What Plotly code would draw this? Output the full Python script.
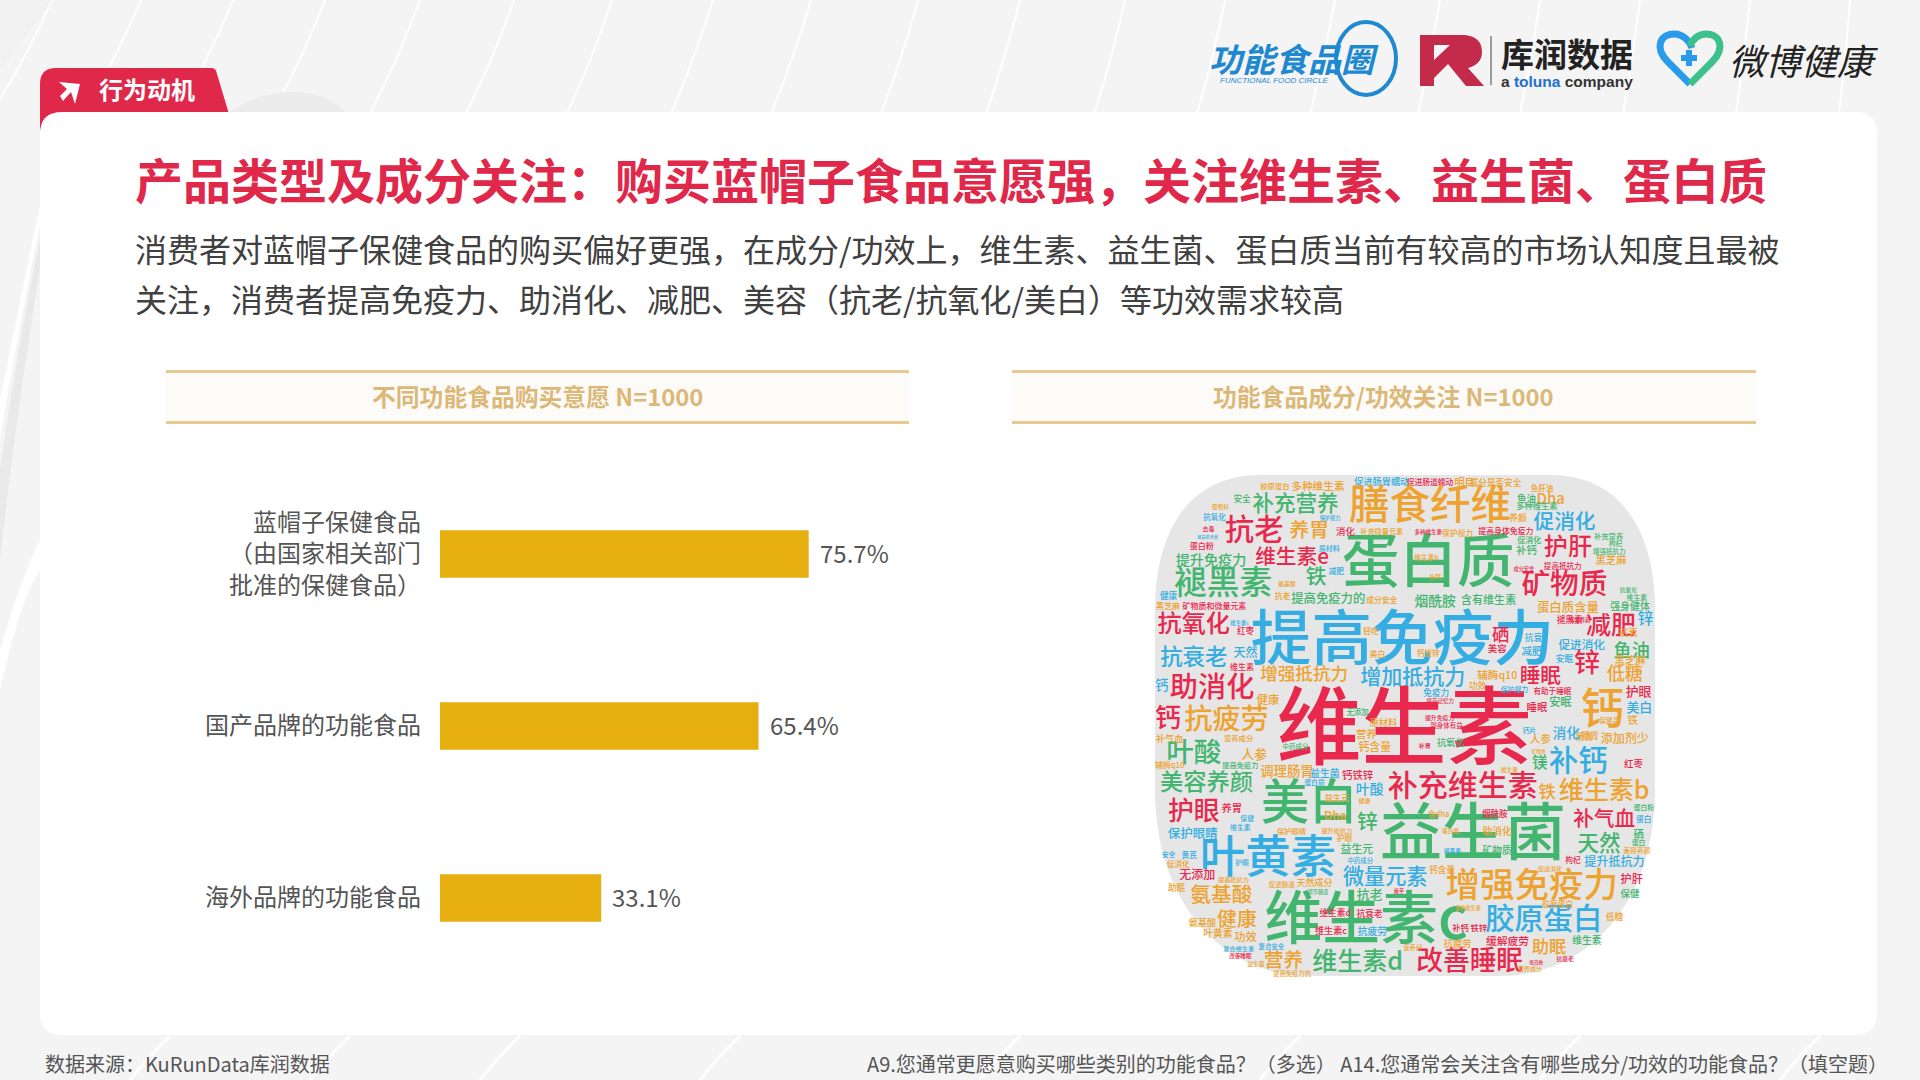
import plotly.graph_objects as go

FONT = "Noto Sans CJK SC"

# ---------- bar chart data ----------
bar_categories = ["蓝帽子保健食品<br>（由国家相关部门<br>批准的保健食品）", "国产品牌的功能食品", "海外品牌的功能食品"]
bar_values = [75.7, 65.4, 33.1]
bar_labels = ["75.7%", "65.4%", "33.1%"]

title_text = "产品类型及成分关注：购买蓝帽子食品意愿强，关注维生素、益生菌、蛋白质"
body_line1 = "消费者对蓝帽子保健食品的购买偏好更强，在成分/功效上，维生素、益生菌、蛋白质当前有较高的市场认知度且最被"
body_line2 = "关注，消费者提高免疫力、助消化、减肥、美容（抗老/抗氧化/美白）等功效需求较高"
panel_left = "不同功能食品购买意愿 N=1000"
panel_right = "功能食品成分/功效关注 N=1000"
foot_left = "数据来源：KuRunData库润数据"
foot_right = "A9.您通常更愿意购买哪些类别的功能食品？（多选） A14.您通常会关注含有哪些成分/功效的功能食品？（填空题）"

# ---------- word cloud: (word, centre x, centre y, width, colour key) ----------
cloud_upper = [
("胶原蛋白",420,72,85,"o"),("多种维生素",545,72,155,"o"),("促进肠胃蠕动",730,58,160,"b"),("促进肠道蠕动",870,58,135,"r"),
("明目",970,60,60,"o"),("成分是否安全",1060,60,150,"o"),("膳食纤维",870,132,470,"o"),("补充营养",480,125,250,"g"),
("安全",325,110,50,"g"),("Dha",1220,110,75,"o"),("鱼油",1150,110,55,"g"),("抗老",360,205,170,"r"),("养胃",520,205,115,"o"),
("促消化",1260,178,180,"b"),("蛋白质",865,305,500,"g"),("消化",625,208,55,"r"),("补充微量元素",730,208,125,"o"),
("多种维生素",865,208,80,"r"),("保护视力",950,213,90,"o"),("提高身体免疫力",1090,205,160,"r"),("护肝",1270,255,140,"r"),
("维生素e",470,285,215,"r"),("提升免疫力",235,292,205,"g"),("褪黑素",270,365,285,"g"),("铁",540,345,60,"g"),
("矿物质",1260,368,250,"r"),("补钙",1150,265,60,"g"),("提高抵抗力",1255,310,110,"r"),("黑芝麻",1395,295,90,"o"),
("提高免疫力的",575,410,215,"g"),("烟酰胺",885,418,120,"g"),("含有维生素",1040,412,160,"g"),("蛋白质含量",1270,435,180,"o"),
("强身健体",1450,432,115,"g"),("黑芝麻",110,430,70,"o"),("矿物质和微量元素",245,430,185,"r"),("提高免疫力",790,535,880,"b"),
("抗氧化",185,485,210,"r"),("减肥",1395,490,145,"r"),("锌",1495,470,45,"b"),("硒",1075,520,50,"r"),("抗衰老",185,585,195,"b"),
("天然",335,570,70,"b"),("促进消化",1310,548,135,"b"),("鱼油",1455,565,105,"g"),("锌",1325,605,75,"r"),
("增强抵抗力",505,635,255,"o"),("增加抵抗力",820,645,305,"b"),("辅酶q10",1065,638,115,"o"),("睡眠",1190,640,120,"r"),
("低糖",1435,635,105,"o"),("钙",92,668,38,"b"),("助消化",238,678,245,"r"),("维生素",325,615,70,"r"),("钙",1370,745,125,"o"),
("护眼",1475,688,75,"r"),("美白",1477,735,75,"b"),("维生素",795,808,740,"r"),("钙",110,770,75,"r"),("抗疲劳",280,772,245,"o"),
("健康",400,712,65,"o"),("安眠",1248,720,65,"g"),("睡眠",1180,735,60,"r"),("美容",1065,558,55,"r"),("抗衰",1170,525,50,"b"),
("减肥",1165,568,60,"b"),("安眠",1260,590,50,"b"),("美白",718,575,45,"o"),("钙镁锌",865,572,65,"o"),("红枣",335,505,50,"r"),
("维生素c",318,480,55,"b"),("轻吃",698,505,45,"o"),("健康",112,400,50,"b"),("抗老",442,402,45,"o"),("成分安全",730,413,90,"o"),
("氨基酸",455,365,50,"o"),("减肥",598,325,45,"b"),("原材料",578,258,60,"b"),("蛋白粉",208,250,70,"r"),("蛋白质含量",225,223,60,"b"),
("去毒",228,200,35,"r"),("抗氧化",245,165,65,"b"),("葡萄籽",262,133,50,"o"),("保护视力",580,165,60,"b"),("鱼肝油",1195,78,65,"o"),
("多种维生素",1180,132,120,"g"),("养颜",1125,165,50,"o"),("促消化",1158,232,70,"g"),("维生素b",860,285,70,"o"),
("补钙",885,342,35,"o"),("原材料",735,780,80,"o"),("营养",685,815,60,"o"),("无添加",660,750,65,"g"),
("保健品",1390,775,60,"o"),("提高记忆力",900,715,80,"r"),("免疫力",888,692,75,"b"),
("美容养颜",1305,472,60,"r"),("褪黑素",1275,472,75,"r"),("提升免疫力",898,765,85,"r"),("副身体有益",918,790,95,"r"),
("有助于睡眠",1225,685,110,"r"),("保护视力",1115,680,80,"b"),("功效",1008,670,50,"o"),
("抗氧化",1445,382,50,"g"),("维生素",1470,405,60,"g"),("增强抵抗力",1390,268,95,"g"),("枸杞",1408,242,40,"g"),("补充营养",1388,222,85,"g"),
("成分安全",1142,320,60,"r"),("抗衰",1445,510,55,"o"),
("黑芝麻",1450,595,90,"o"),("铁",1458,775,30,"o"),("钙片",1158,805,40,"b"),("肠胃",1318,822,50,"o"),
]
cloud_lower = [
("叶酸",185,92,160,"g"),("人参",360,95,75,"o"),("钙含量",710,75,95,"o"),("营养成分",315,48,85,"o"),("补气血",115,48,80,"o"),
("补钙",1300,118,170,"b"),("镁",1188,120,45,"g"),("红枣",1460,125,55,"r"),("美容养颜",222,180,270,"g"),("调理肠胃",455,148,155,"o"),
("益生菌",565,152,85,"b"),("钙铁锌",660,158,90,"r"),("补充维生素",965,192,435,"r"),("铁",1210,210,50,"o"),("维生素b",1375,205,260,"o"),
("美白",520,245,280,"g"),("益生元",600,228,70,"o"),("护眼",185,268,150,"r"),("养胃",295,258,60,"r"),("益生菌",995,340,540,"g"),
("补气血",1375,290,180,"r"),("蛋白",1490,290,45,"b"),("叶黄素",400,408,395,"b"),("保护眼睛",182,335,145,"b"),("锌",688,300,60,"g"),
("Dha",595,280,60,"o"),("益生元",658,380,95,"g"),("天然",1360,365,125,"g"),("矿物质",1065,385,85,"g"),("助消化",1065,328,85,"o"),
("蛋白质",930,325,50,"o"),("枸杞",1285,413,45,"r"),("提升抵抗力",1405,417,175,"b"),("微量元素",740,465,245,"b"),("无添加",195,458,105,"r"),
("增强免疫力",1165,490,500,"o"),("护肝",1455,470,65,"r"),("保健",1450,513,55,"g"),("氨基酸",265,517,180,"o"),("助眠",135,495,50,"o"),
("天然成分",535,482,105,"o"),("抗老",695,517,75,"g"),("维生素c",685,595,600,"g"),("胶原蛋白",1200,592,340,"b"),("健康",310,590,115,"o"),
("氨基酸",210,602,80,"o"),("功效",335,645,65,"o"),("叶黄素",255,633,85,"o"),("维生素d",595,572,90,"r"),("抗衰老",695,575,75,"r"),
("维生素c",583,625,95,"r"),("抗疲劳",703,628,85,"b"),("助眠",1215,675,100,"o"),("维生素",1325,655,85,"g"),("缓解疲劳",1095,655,125,"r"),
("维生素d",660,718,260,"g"),("改善睡眠",985,718,310,"r"),("营养",445,715,115,"o"),("改善睡眠",320,700,65,"r"),("提高免疫力的",470,752,110,"o"),
("中药成分",480,72,75,"g"),("补胃",855,70,35,"r"),("抗氧化",930,60,80,"g"),("提高免疫力",320,128,105,"g"),("辅酶q10",115,128,85,"o"),
("消化",1265,32,80,"b"),("肠胃",1335,40,50,"o"),("添加剂少",1435,48,140,"o"),("人参",1190,50,60,"o"),("矿物质",1185,85,40,"o"),("维生素",1100,142,50,"o"),
("蛋白质",535,180,60,"b"),("叶酸",695,200,80,"b"),("健康",680,235,35,"o"),("含dha",895,275,60,"o"),("烟酰胺",1058,275,75,"r"),
("保健",340,288,40,"b"),("护眼",622,348,45,"o"),("提升抵抗力",600,325,90,"o"),("保护眼睛",468,325,85,"o"),("维生素",320,316,60,"b"),("黄芪",172,397,45,"b"),("安全",112,397,40,"b"),
("护眼",325,420,40,"b"),("促消化",140,425,65,"o"),("提高抵抗力",300,470,90,"o"),("中药成分",668,415,75,"b"),("褪黑素",935,385,50,"b"),("钙含量",905,443,75,"o"),
("促进消化",1218,438,70,"o"),("美容养颜",1470,385,80,"o"),("蛋白",1475,360,40,"g"),("硒",1475,335,30,"g"),("蛋白粉",1490,255,60,"g"),("促进肠道",440,485,75,"o"),
("低糖",1405,582,50,"o"),("多种维生素",980,555,75,"o"),("补钙 铁锌",985,618,110,"r"),("胶原蛋白",1240,545,90,"o"),
("复合维生素",315,678,90,"b"),("复合安全",410,672,75,"b"),("蛋白质",1178,718,40,"r"),("抗衰老",1262,710,50,"r"),("魔芋",780,505,30,"r"),("营养好",820,675,55,"o"),
("调节肠道",545,508,60,"g"),("抗疲劳",950,665,80,"o"),("营养成分",1160,740,70,"o"),("益生菌",365,725,50,"o"),
]
COLOURS = {"r": "#e9284d", "g": "#42b56f", "b": "#33ade2", "o": "#eea22f"}
ZOOM_X0, ZOOM_XS = 1130, 2.9
UPPER_Y0, LOWER_Y0, ZOOM_YS = 460, 720, 3


def size_of(word, width):
    units = sum(0.58 if ord(c) < 128 else 1 for c in word)
    return width / ZOOM_XS / units


cloud_x, cloud_y, cloud_text, cloud_size, cloud_col = [], [], [], [], []
for rows, y0 in ((cloud_upper, UPPER_Y0), (cloud_lower, LOWER_Y0)):
    for w, zx, zy, zw, c in rows:
        s = size_of(w, zw)
        cloud_x.append(ZOOM_X0 + zx / ZOOM_XS)
        cloud_y.append(y0 + zy / ZOOM_YS + 3 + 0.05 * s)
        cloud_text.append(w)
        cloud_size.append(s)
        cloud_col.append(COLOURS[c])

fig = go.Figure()

# page axes: full window in pixels, drawn first so the bars sit above its shapes
fig.add_trace(go.Scatter(x=cloud_x, y=cloud_y, text=cloud_text, mode="text",
                         textposition="middle center",
                         textfont=dict(family=FONT, size=cloud_size, color=cloud_col, weight=500),
                         hoverinfo="skip", showlegend=False, xaxis="x", yaxis="y"))

fig.add_trace(go.Bar(x=bar_values, y=bar_categories, orientation="h", marker=dict(color="#e6ae0f", line_width=0),
                     width=0.276, hoverinfo="skip", showlegend=False, xaxis="x2", yaxis="y2"))

shapes = []


def path(d, fill=None, line=None, lw=0, layer="below"):
    shapes.append(dict(type="path", path=d, xref="x", yref="y", layer=layer,
                       fillcolor=fill or "rgba(0,0,0,0)",
                       line=dict(color=line or "rgba(0,0,0,0)", width=lw)))


def rect(x0, y0, x1, y1, fill):
    shapes.append(dict(type="rect", x0=x0, y0=y0, x1=x1, y1=y1, xref="x", yref="y", layer="below",
                       fillcolor=fill, line_width=0))


# page background strokes
for xt in [52, 141, 233, 325, 420, 514, 612, 713, 811, 918, 1020, 1125, 1225, 1335, 1440, 1540, 1640, 1750, 1850]:
    dx = 62 * (1 - 0.85 * xt / 1920)
    path(f"M{xt},0 Q{xt - dx * .4:.0f},55 {xt - dx:.0f},114", line="#ffffff", lw=2)
path("M0,0 L0,70 L14,52 L52,0 Z", fill="#f1f1f1")
path("M0,470 Q22,320 40,240 L40,270 Q18,400 0,560 Z", fill="#e9e9e9")
path("M0,400 Q20,300 40,205 L40,225 Q18,330 0,440 Z", fill="#ffffff")
path("M0,650 Q20,580 40,540 L40,570 Q20,600 0,690 Z", fill="#ffffff")
path("M230,112 Q260,90 300,92 Q330,95 345,112 Z", fill="#ececec")
for xb in [130, 310, 480, 700, 980, 1260, 1540, 1780]:
    path(f"M{xb},1080 Q{xb + 15},1060 {xb + 40},1036", line="#ffffff", lw=3)

# red tag
path("M40,132 L40,84 Q40,68 56,68 L212,68 Q216,68 217,74 L229,114 L60,114 Q44,116 40,132 Z", fill="#e0284a")
path("M59,82 L80,84 L75,104 L71,92 L63,101 L60,96 L67,89 Z", fill="#ffffff")

# white card
path("M62,112 L1855,112 Q1877,112 1877,134 L1877,1013 Q1877,1035 1855,1035 L62,1035 Q40,1035 40,1013 L40,134 Q40,112 62,112 Z", fill="#ffffff")

# panel banners
for x0, x1 in ((166, 909), (1012, 1756)):
    rect(x0, 371, x1, 423, "#fcfbf8")
    rect(x0, 370, x1, 373, "#e7ca90")
    rect(x0, 421, x1, 424, "#e7ca90")

# grey cloud silhouette
path("M1260,475 L1550,475 C1620,475 1655,530 1655,610 L1655,790 C1655,900 1590,976 1500,976 L1310,976 "
     "C1220,976 1155,900 1155,790 L1155,610 C1155,530 1190,475 1260,475 Z", fill="#e6e6e6")

# logos
shapes.append(dict(type="circle", x0=1336, y0=22, x1=1396, y1=95, xref="x", yref="y", layer="below",
                   line=dict(color="#1e88d0", width=4), fillcolor="rgba(0,0,0,0)"))
path("M1420,35 L1434,35 L1434,86 L1420,86 Z", fill="#c42b4a")
path("M1434,35 L1465,35 Q1482,37 1482,52 Q1482,64 1468,68 L1484,86 L1466,86 L1448,64 L1434,78 L1434,60 L1450,45 L1434,45 Z", fill="#c42b4a")
path("M1491,36 L1491,85", line="#444444", lw=1)
path("M1690,84 L1668,62 C1654,48 1660,34 1674,34 C1684,34 1690,42 1692,48", line="#2a9bea", lw=7)
path("M1690,84 L1712,62 C1726,48 1720,34 1706,34 C1698,34 1692,40 1690,46", line="#3cc08c", lw=7)
path("M1689,50 L1689,66 M1681,58 L1697,58", line="#2a9bea", lw=6)

anns = []


def text(x, y, s, size, color="#404040", anchor="left", bold=False, family=FONT, italic=False):
    if bold:
        s = f"<b>{s}</b>"
    if italic:
        s = f"<i>{s}</i>"
    anns.append(dict(x=x, y=y, xref="x", yref="y", text=s, showarrow=False, xanchor=anchor, yanchor="middle",
                     font=dict(family=family, size=size, color=color)))


text(133, 178, title_text, 48, "#e0284a", bold=True)
text(133, 248, body_line1, 32, "#404040")
text(133, 298, body_line2, 32, "#404040")
text(537, 395, panel_left, 23.8, "#dcb878", "center", bold=True)
text(1383, 395, panel_right, 23.8, "#dcb878", "center", bold=True)
text(147, 88, "行为动机", 24, "#ffffff", "center", bold=True)
text(43, 1063, foot_left, 20, "#555555")
text(1890, 1063, foot_right, 20, "#555555", "right")
text(1294, 58, "功能食品圈", 33, "#1e88d0", "center", bold=True, italic=True)
text(1274, 80, "FUNCTIONAL FOOD CIRCLE", 8, "#1e88d0", "center", family="Liberation Sans", italic=True)
text(1567, 53, "库润数据", 33, "#222222", "center", bold=True)
text(1567, 81, 'a <span style="color:#1e6fd0">toluna</span> company', 15.5, "#333333", "center", bold=True, family="Liberation Sans")
text(1803, 59, "微博健康", 36, "#222222", "center", italic=True)

# value labels placed through the bar axes
for cat, val, lab in zip(bar_categories, bar_values, bar_labels):
    anns.append(dict(x=val, y=cat, xref="x2", yref="y2", text=lab, showarrow=False, xanchor="left", yanchor="middle",
                     xshift=9, yshift=2, font=dict(family=FONT, size=24, color="#555555")))

fig.update_layout(
    width=1920, height=1080, autosize=False,
    margin=dict(l=0, r=0, t=0, b=0),
    paper_bgcolor="#f4f4f4", plot_bgcolor="rgba(0,0,0,0)",
    shapes=shapes, annotations=anns, showlegend=False,
    font=dict(family=FONT),
    xaxis=dict(domain=[0, 1], range=[0, 1920], visible=False, fixedrange=True),
    yaxis=dict(domain=[0, 1], range=[1080, 0], visible=False, fixedrange=True),
    xaxis2=dict(domain=[440 / 1920, 927 / 1920], range=[0, 100], visible=False, anchor="y2", fixedrange=True),
    yaxis2=dict(domain=[1 - 984 / 1080, 1 - 468 / 1080], anchor="x2", autorange="reversed",
                showline=False, showgrid=False, zeroline=False, ticks="", ticklabelstandoff=18,
                tickfont=dict(family=FONT, size=24, color="#555555"), fixedrange=True),
)
fig.write_html("out.html", config=dict(displayModeBar=False, responsive=False),
               post_script="document.body.style.margin='0';document.documentElement.style.overflow='hidden';")
